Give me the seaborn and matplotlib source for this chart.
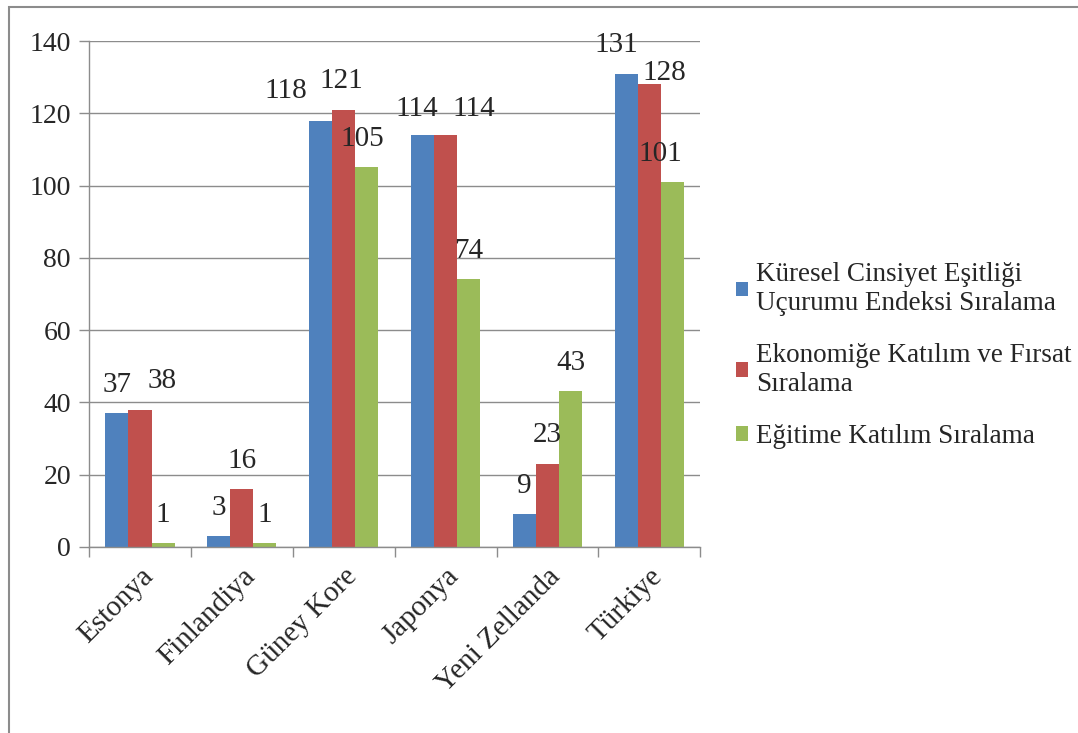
import numpy as np
import pandas as pd
import matplotlib
matplotlib.use("Agg")
import matplotlib.pyplot as plt
import seaborn as sns
from matplotlib.patches import Rectangle
from matplotlib.ticker import FixedLocator

sns.set_style("white")
plt.rcParams["font.family"] = ["Liberation Serif", "DejaVu Serif"]

# ========== Data ==========
countries = ["Estonya", "Finlandiya", "Güney Kore", "Japonya", "Yeni Zellanda", "Türkiye"]
series = ["Küresel Cinsiyet Eşitliği\nUçurumu Endeksi Sıralama",
          "Ekonomiğe Katılım ve Fırsat\nSıralama",
          "Eğitime Katılım Sıralama"]
kuresel = [37, 3, 118, 114, 9, 131]
ekonomi = [38, 16, 121, 114, 23, 128]
egitim = [1, 1, 105, 74, 43, 101]
yticks = [0, 20, 40, 60, 80, 100, 120, 140]

palette = ["#4F81BD", "#C0504D", "#9BBB59"]

# label nudges (points) to keep data labels apart, as in the original chart
label_shift = {
    (1, 0): (16, 0),
    (0, 2): (-25, 1), (1, 2): (-2, 0), (2, 2): (-3, 0),
    (0, 3): (-4, -2), (1, 3): (20, -2),
    (0, 5): (-7, 0), (1, 5): (11, -12), (2, 5): (-9, 0),
}

rows = []
for name, vals in zip(series, [kuresel, ekonomi, egitim]):
    for c, v in zip(countries, vals):
        rows.append({"Ülke": c, "Seri": name, "Değer": v})
df = pd.DataFrame(rows)

# ---------- Figure ----------
fig = plt.figure(figsize=(10.78, 7.33), dpi=100)
ax = fig.add_axes([0.0826, 0.254, 0.567, 0.69])

sns.barplot(data=df, x="Ülke", y="Değer", hue="Seri", order=countries,
            hue_order=series, palette=palette, width=0.68, saturation=1,
            linewidth=0, ax=ax, zorder=2)

for si, cont in enumerate(ax.containers):
    texts = ax.bar_label(cont, padding=11, fontsize=21)
    for ci, t in enumerate(texts):
        dx, dy = label_shift.get((si, ci), (0, 0))
        x0, y0 = t.xyann
        t.xyann = (x0 + dx, y0 + dy)

# grid + axes styling
ax.set_ylim(0, 140)
ax.set_xlim(-0.5, len(countries) - 0.5)
ax.set_yticks(yticks)
ax.set_yticklabels([str(t) for t in yticks], fontsize=20)
ax.yaxis.grid(True, color="#8c8c8c", linewidth=1, zorder=0)
ax.set_axisbelow(True)
ax.set_xlabel("")
ax.set_ylabel("")
ax.set_xticks(range(len(countries)))
ax.set_xticklabels(countries, fontsize=21, rotation=45, ha="right",
                   rotation_mode="anchor")
ax.tick_params(axis="x", which="major", length=0, pad=12)
ax.xaxis.set_minor_locator(FixedLocator(np.arange(-0.5, len(countries), 1)))
ax.tick_params(axis="x", which="minor", length=7, width=1, color="#8c8c8c",
               direction="out", bottom=True)
ax.tick_params(axis="y", length=7, width=1, color="#8c8c8c", direction="out",
               left=True, pad=6)
for s in ["top", "right"]:
    ax.spines[s].set_visible(False)
for s in ["left", "bottom"]:
    ax.spines[s].set_color("#8c8c8c")
    ax.spines[s].set_linewidth(1)

# legend
handles, labels = ax.get_legend_handles_labels()
ax.legend_.remove()
fig.legend(handles, labels, loc="center left", bbox_to_anchor=(0.66, 0.515),
           frameon=False, fontsize=19.5, handlelength=0.45, handleheight=0.45,
           handletextpad=0.3, labelspacing=1.0)

# outer chart border
fig.patches.append(Rectangle((0.0085, -0.05), 1.1, 1.04, transform=fig.transFigure,
                             fill=False, edgecolor="#8c8c8c", linewidth=1.5))

fig.savefig("out.png", dpi=100)
